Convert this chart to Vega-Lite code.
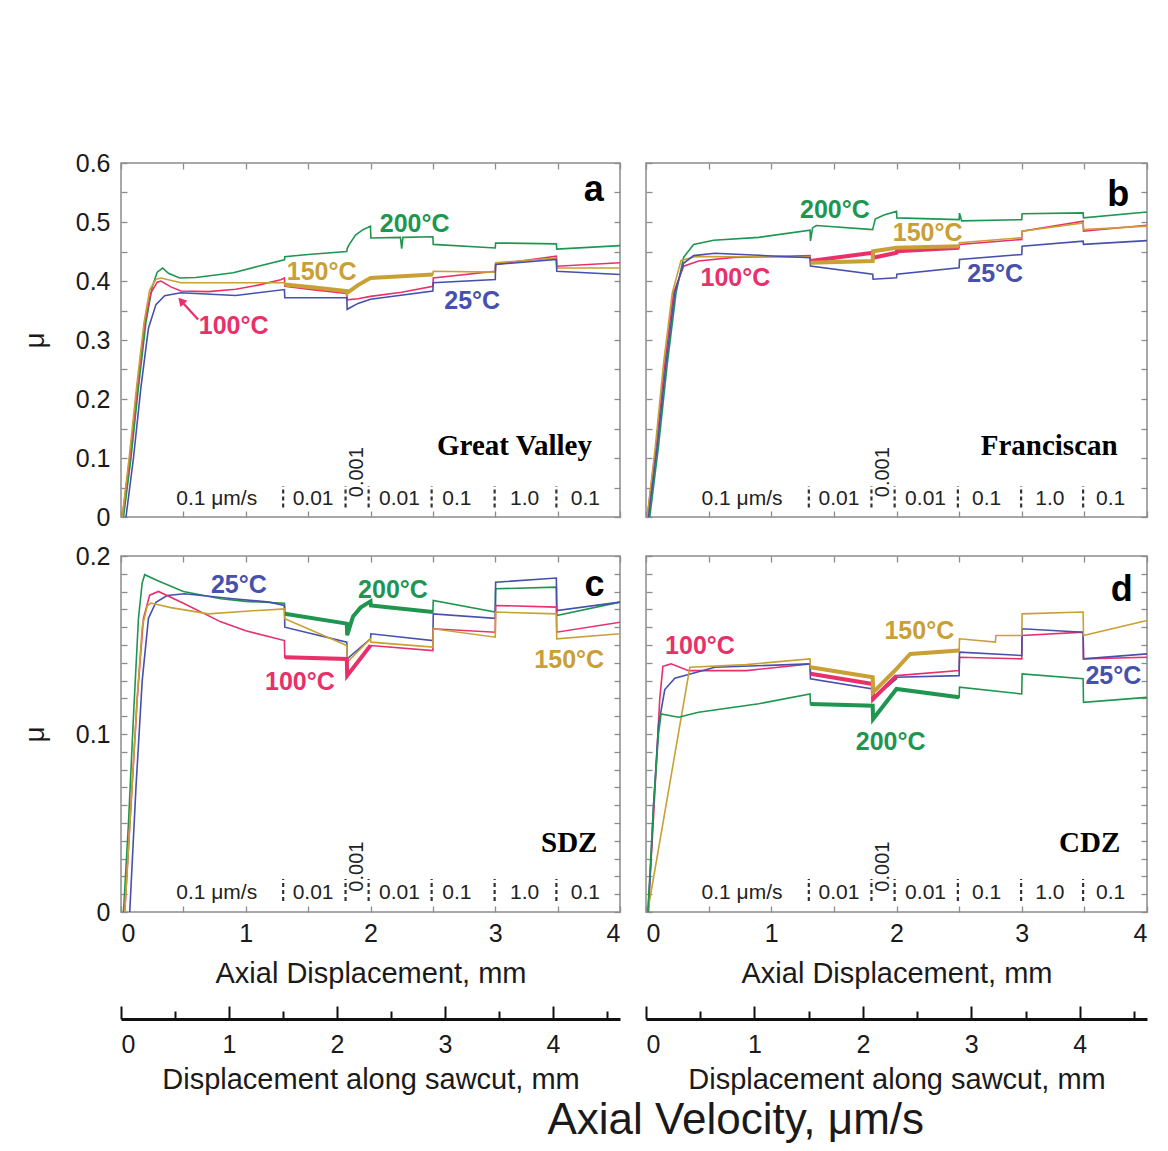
{
"$schema": "https://vega.github.io/schema/vega-lite/v6.json",
"background": "white",
"padding": {"left": 20, "top": 150, "right": 10, "bottom": 2},
"config": {
  "font": "Liberation Sans",
  "axis": {"labelFont": "Liberation Sans", "titleFont": "Liberation Sans", "labelColor": "#1a1a1a", "titleColor": "#1a1a1a", "titleFontWeight": "normal"},
  "view": {"stroke": "#8c8c8c", "strokeWidth": 1.5}
},
"title": {"text": "Axial Velocity, μm/s", "orient": "bottom", "fontSize": 44, "fontWeight": "normal", "font": "Liberation Sans", "color": "#1a1a1a", "anchor": "middle", "dx": 150, "offset": 4},
"datasets": {
"curves": [
{"p":"a","t":"200°C","x":0.02,"y":0},{"p":"a","t":"200°C","x":0.08,"y":0.1},{"p":"a","t":"200°C","x":0.14,"y":0.22},{"p":"a","t":"200°C","x":0.2,"y":0.33},{"p":"a","t":"200°C","x":0.25,"y":0.39},{"p":"a","t":"200°C","x":0.29,"y":0.415},{"p":"a","t":"200°C","x":0.334,"y":0.422},{"p":"a","t":"200°C","x":0.38,"y":0.413},{"p":"a","t":"200°C","x":0.47,"y":0.405},{"p":"a","t":"200°C","x":0.6,"y":0.406},{"p":"a","t":"200°C","x":0.9,"y":0.414},{"p":"a","t":"200°C","x":1.1,"y":0.425},{"p":"a","t":"200°C","x":1.31,"y":0.436},{"p":"a","t":"200°C","x":1.313,"y":0.441},{"p":"a","t":"200°C","x":1.5,"y":0.445},{"p":"a","t":"200°C","x":1.81,"y":0.45},{"p":"a","t":"200°C","x":1.813,"y":0.455},{"p":"a","t":"200°C","x":1.83,"y":0.462},{"p":"a","t":"200°C","x":1.88,"y":0.478},{"p":"a","t":"200°C","x":1.94,"y":0.487},{"p":"a","t":"200°C","x":2.0,"y":0.493},{"p":"a","t":"200°C","x":2.003,"y":0.473},{"p":"a","t":"200°C","x":2.24,"y":0.474},{"p":"a","t":"200°C","x":2.25,"y":0.455},{"p":"a","t":"200°C","x":2.26,"y":0.474},{"p":"a","t":"200°C","x":2.5,"y":0.475},{"p":"a","t":"200°C","x":2.503,"y":0.462},{"p":"a","t":"200°C","x":3.0,"y":0.456},{"p":"a","t":"200°C","x":3.003,"y":0.4645},{"p":"a","t":"200°C","x":3.49,"y":0.463},{"p":"a","t":"200°C","x":3.493,"y":0.454},{"p":"a","t":"200°C","x":4.0,"y":0.46},
{"p":"a","t":"100°C","x":0.01,"y":0},{"p":"a","t":"100°C","x":0.07,"y":0.1},{"p":"a","t":"100°C","x":0.13,"y":0.22},{"p":"a","t":"100°C","x":0.19,"y":0.33},{"p":"a","t":"100°C","x":0.24,"y":0.38},{"p":"a","t":"100°C","x":0.29,"y":0.398},{"p":"a","t":"100°C","x":0.32,"y":0.4},{"p":"a","t":"100°C","x":0.4,"y":0.39},{"p":"a","t":"100°C","x":0.48,"y":0.383},{"p":"a","t":"100°C","x":0.7,"y":0.382},{"p":"a","t":"100°C","x":0.92,"y":0.386},{"p":"a","t":"100°C","x":1.1,"y":0.393},{"p":"a","t":"100°C","x":1.28,"y":0.402},{"p":"a","t":"100°C","x":1.31,"y":0.405},{"p":"a","t":"100°C","x":1.313,"y":0.391},{"p":"a","t":"100°C","x":1.55,"y":0.385},{"p":"a","t":"100°C","x":1.81,"y":0.379},{"p":"a","t":"100°C","x":1.813,"y":0.368},{"p":"a","t":"100°C","x":1.9,"y":0.37},{"p":"a","t":"100°C","x":2.0,"y":0.374},{"p":"a","t":"100°C","x":2.25,"y":0.381},{"p":"a","t":"100°C","x":2.5,"y":0.391},{"p":"a","t":"100°C","x":2.503,"y":0.405},{"p":"a","t":"100°C","x":3.0,"y":0.4165},{"p":"a","t":"100°C","x":3.003,"y":0.428},{"p":"a","t":"100°C","x":3.49,"y":0.442},{"p":"a","t":"100°C","x":3.493,"y":0.425},{"p":"a","t":"100°C","x":4.0,"y":0.431},
{"p":"a","t":"150°C","x":0.01,"y":0},{"p":"a","t":"150°C","x":0.065,"y":0.1},{"p":"a","t":"150°C","x":0.125,"y":0.22},{"p":"a","t":"150°C","x":0.185,"y":0.33},{"p":"a","t":"150°C","x":0.23,"y":0.385},{"p":"a","t":"150°C","x":0.28,"y":0.403},{"p":"a","t":"150°C","x":0.32,"y":0.405},{"p":"a","t":"150°C","x":0.48,"y":0.397},{"p":"a","t":"150°C","x":1.31,"y":0.397},{"p":"a","t":"150°C","x":1.313,"y":0.394},{"p":"a","t":"150°C","x":1.55,"y":0.389},{"p":"a","t":"150°C","x":1.81,"y":0.383},{"p":"a","t":"150°C","x":1.813,"y":0.38},{"p":"a","t":"150°C","x":1.9,"y":0.393},{"p":"a","t":"150°C","x":2.0,"y":0.405},{"p":"a","t":"150°C","x":2.5,"y":0.411},{"p":"a","t":"150°C","x":2.503,"y":0.4165},{"p":"a","t":"150°C","x":3.0,"y":0.415},{"p":"a","t":"150°C","x":3.003,"y":0.431},{"p":"a","t":"150°C","x":3.49,"y":0.439},{"p":"a","t":"150°C","x":3.493,"y":0.422},{"p":"a","t":"150°C","x":4.0,"y":0.422},
{"p":"a","t":"25°C","x":0.04,"y":0},{"p":"a","t":"25°C","x":0.1,"y":0.1},{"p":"a","t":"25°C","x":0.16,"y":0.22},{"p":"a","t":"25°C","x":0.22,"y":0.32},{"p":"a","t":"25°C","x":0.28,"y":0.36},{"p":"a","t":"25°C","x":0.35,"y":0.375},{"p":"a","t":"25°C","x":0.48,"y":0.38},{"p":"a","t":"25°C","x":0.92,"y":0.3755},{"p":"a","t":"25°C","x":1.31,"y":0.3855},{"p":"a","t":"25°C","x":1.313,"y":0.3715},{"p":"a","t":"25°C","x":1.81,"y":0.3715},{"p":"a","t":"25°C","x":1.813,"y":0.352},{"p":"a","t":"25°C","x":1.9,"y":0.362},{"p":"a","t":"25°C","x":2.0,"y":0.369},{"p":"a","t":"25°C","x":2.5,"y":0.383},{"p":"a","t":"25°C","x":2.503,"y":0.397},{"p":"a","t":"25°C","x":3.0,"y":0.4025},{"p":"a","t":"25°C","x":3.003,"y":0.428},{"p":"a","t":"25°C","x":3.49,"y":0.4365},{"p":"a","t":"25°C","x":3.493,"y":0.4165},{"p":"a","t":"25°C","x":4.0,"y":0.411},
{"p":"b","t":"200°C","x":0.03,"y":0},{"p":"b","t":"200°C","x":0.1,"y":0.12},{"p":"b","t":"200°C","x":0.17,"y":0.26},{"p":"b","t":"200°C","x":0.24,"y":0.38},{"p":"b","t":"200°C","x":0.3,"y":0.44},{"p":"b","t":"200°C","x":0.38,"y":0.462},{"p":"b","t":"200°C","x":0.54,"y":0.469},{"p":"b","t":"200°C","x":0.9,"y":0.474},{"p":"b","t":"200°C","x":1.31,"y":0.486},{"p":"b","t":"200°C","x":1.313,"y":0.468},{"p":"b","t":"200°C","x":1.33,"y":0.49},{"p":"b","t":"200°C","x":1.36,"y":0.494},{"p":"b","t":"200°C","x":1.81,"y":0.487},{"p":"b","t":"200°C","x":1.813,"y":0.49},{"p":"b","t":"200°C","x":1.83,"y":0.505},{"p":"b","t":"200°C","x":1.9,"y":0.512},{"p":"b","t":"200°C","x":2.0,"y":0.518},{"p":"b","t":"200°C","x":2.003,"y":0.507},{"p":"b","t":"200°C","x":2.5,"y":0.504},{"p":"b","t":"200°C","x":2.503,"y":0.515},{"p":"b","t":"200°C","x":2.52,"y":0.502},{"p":"b","t":"200°C","x":3.0,"y":0.504},{"p":"b","t":"200°C","x":3.003,"y":0.514},{"p":"b","t":"200°C","x":3.49,"y":0.5155},{"p":"b","t":"200°C","x":3.493,"y":0.507},{"p":"b","t":"200°C","x":4.0,"y":0.517},
{"p":"b","t":"100°C","x":0.01,"y":0},{"p":"b","t":"100°C","x":0.08,"y":0.12},{"p":"b","t":"100°C","x":0.15,"y":0.26},{"p":"b","t":"100°C","x":0.22,"y":0.38},{"p":"b","t":"100°C","x":0.3,"y":0.425},{"p":"b","t":"100°C","x":0.42,"y":0.434},{"p":"b","t":"100°C","x":0.7,"y":0.44},{"p":"b","t":"100°C","x":1.31,"y":0.443},{"p":"b","t":"100°C","x":1.313,"y":0.434},{"p":"b","t":"100°C","x":1.81,"y":0.448},{"p":"b","t":"100°C","x":1.813,"y":0.4395},{"p":"b","t":"100°C","x":2.0,"y":0.448},{"p":"b","t":"100°C","x":2.003,"y":0.4505},{"p":"b","t":"100°C","x":2.5,"y":0.4565},{"p":"b","t":"100°C","x":2.503,"y":0.462},{"p":"b","t":"100°C","x":3.0,"y":0.4705},{"p":"b","t":"100°C","x":3.003,"y":0.4845},{"p":"b","t":"100°C","x":3.49,"y":0.5015},{"p":"b","t":"100°C","x":3.493,"y":0.4845},{"p":"b","t":"100°C","x":4.0,"y":0.4945},
{"p":"b","t":"150°C","x":0.01,"y":0},{"p":"b","t":"150°C","x":0.075,"y":0.12},{"p":"b","t":"150°C","x":0.14,"y":0.26},{"p":"b","t":"150°C","x":0.21,"y":0.38},{"p":"b","t":"150°C","x":0.28,"y":0.435},{"p":"b","t":"150°C","x":0.4,"y":0.4415},{"p":"b","t":"150°C","x":1.31,"y":0.4405},{"p":"b","t":"150°C","x":1.313,"y":0.431},{"p":"b","t":"150°C","x":1.81,"y":0.434},{"p":"b","t":"150°C","x":1.813,"y":0.4505},{"p":"b","t":"150°C","x":2.0,"y":0.4565},{"p":"b","t":"150°C","x":2.5,"y":0.459},{"p":"b","t":"150°C","x":2.503,"y":0.465},{"p":"b","t":"150°C","x":3.0,"y":0.4735},{"p":"b","t":"150°C","x":3.003,"y":0.4845},{"p":"b","t":"150°C","x":3.49,"y":0.4985},{"p":"b","t":"150°C","x":3.493,"y":0.487},{"p":"b","t":"150°C","x":4.0,"y":0.493},
{"p":"b","t":"25°C","x":0.02,"y":0},{"p":"b","t":"25°C","x":0.09,"y":0.12},{"p":"b","t":"25°C","x":0.16,"y":0.26},{"p":"b","t":"25°C","x":0.23,"y":0.38},{"p":"b","t":"25°C","x":0.3,"y":0.43},{"p":"b","t":"25°C","x":0.38,"y":0.443},{"p":"b","t":"25°C","x":0.55,"y":0.447},{"p":"b","t":"25°C","x":1.31,"y":0.4395},{"p":"b","t":"25°C","x":1.313,"y":0.4255},{"p":"b","t":"25°C","x":1.81,"y":0.4115},{"p":"b","t":"25°C","x":1.813,"y":0.403},{"p":"b","t":"25°C","x":2.0,"y":0.4055},{"p":"b","t":"25°C","x":2.003,"y":0.4115},{"p":"b","t":"25°C","x":2.5,"y":0.4225},{"p":"b","t":"25°C","x":2.503,"y":0.4365},{"p":"b","t":"25°C","x":3.0,"y":0.445},{"p":"b","t":"25°C","x":3.003,"y":0.459},{"p":"b","t":"25°C","x":3.49,"y":0.4675},{"p":"b","t":"25°C","x":3.493,"y":0.462},{"p":"b","t":"25°C","x":4.0,"y":0.4685},
{"p":"c","t":"200°C","x":0.02,"y":0},{"p":"c","t":"200°C","x":0.06,"y":0.05},{"p":"c","t":"200°C","x":0.1,"y":0.11},{"p":"c","t":"200°C","x":0.14,"y":0.165},{"p":"c","t":"200°C","x":0.17,"y":0.185},{"p":"c","t":"200°C","x":0.19,"y":0.1895},{"p":"c","t":"200°C","x":0.3,"y":0.186},{"p":"c","t":"200°C","x":0.5,"y":0.18},{"p":"c","t":"200°C","x":0.8,"y":0.176},{"p":"c","t":"200°C","x":1.0,"y":0.1745},{"p":"c","t":"200°C","x":1.31,"y":0.1735},{"p":"c","t":"200°C","x":1.313,"y":0.1675},{"p":"c","t":"200°C","x":1.81,"y":0.162},{"p":"c","t":"200°C","x":1.813,"y":0.1555},{"p":"c","t":"200°C","x":1.86,"y":0.166},{"p":"c","t":"200°C","x":1.92,"y":0.171},{"p":"c","t":"200°C","x":2.0,"y":0.1745},{"p":"c","t":"200°C","x":2.003,"y":0.1722},{"p":"c","t":"200°C","x":2.5,"y":0.1685},{"p":"c","t":"200°C","x":2.503,"y":0.175},{"p":"c","t":"200°C","x":3.0,"y":0.1685},{"p":"c","t":"200°C","x":3.003,"y":0.1816},{"p":"c","t":"200°C","x":3.49,"y":0.1825},{"p":"c","t":"200°C","x":3.493,"y":0.1666},{"p":"c","t":"200°C","x":4.0,"y":0.1741},
{"p":"c","t":"25°C","x":0.07,"y":0},{"p":"c","t":"25°C","x":0.12,"y":0.07},{"p":"c","t":"25°C","x":0.17,"y":0.13},{"p":"c","t":"25°C","x":0.22,"y":0.165},{"p":"c","t":"25°C","x":0.28,"y":0.174},{"p":"c","t":"25°C","x":0.37,"y":0.1778},{"p":"c","t":"25°C","x":0.51,"y":0.1788},{"p":"c","t":"25°C","x":0.9,"y":0.176},{"p":"c","t":"25°C","x":1.19,"y":0.1741},{"p":"c","t":"25°C","x":1.31,"y":0.1722},{"p":"c","t":"25°C","x":1.313,"y":0.16},{"p":"c","t":"25°C","x":1.81,"y":0.1516},{"p":"c","t":"25°C","x":1.813,"y":0.1422},{"p":"c","t":"25°C","x":2.0,"y":0.1535},{"p":"c","t":"25°C","x":2.003,"y":0.1563},{"p":"c","t":"25°C","x":2.5,"y":0.1525},{"p":"c","t":"25°C","x":2.503,"y":0.1675},{"p":"c","t":"25°C","x":3.0,"y":0.165},{"p":"c","t":"25°C","x":3.003,"y":0.1853},{"p":"c","t":"25°C","x":3.49,"y":0.1876},{"p":"c","t":"25°C","x":3.493,"y":0.1694},{"p":"c","t":"25°C","x":4.0,"y":0.1741},
{"p":"c","t":"100°C","x":0.03,"y":0},{"p":"c","t":"100°C","x":0.08,"y":0.06},{"p":"c","t":"100°C","x":0.13,"y":0.12},{"p":"c","t":"100°C","x":0.18,"y":0.165},{"p":"c","t":"100°C","x":0.23,"y":0.178},{"p":"c","t":"100°C","x":0.3,"y":0.1801},{"p":"c","t":"100°C","x":0.5,"y":0.1735},{"p":"c","t":"100°C","x":0.8,"y":0.163},{"p":"c","t":"100°C","x":1.0,"y":0.158},{"p":"c","t":"100°C","x":1.31,"y":0.1525},{"p":"c","t":"100°C","x":1.313,"y":0.1431},{"p":"c","t":"100°C","x":1.81,"y":0.1422},{"p":"c","t":"100°C","x":1.813,"y":0.1328},{"p":"c","t":"100°C","x":2.0,"y":0.1497},{"p":"c","t":"100°C","x":2.5,"y":0.1469},{"p":"c","t":"100°C","x":2.503,"y":0.1591},{"p":"c","t":"100°C","x":3.0,"y":0.1572},{"p":"c","t":"100°C","x":3.003,"y":0.1722},{"p":"c","t":"100°C","x":3.49,"y":0.1713},{"p":"c","t":"100°C","x":3.493,"y":0.1572},{"p":"c","t":"100°C","x":4.0,"y":0.1628},
{"p":"c","t":"150°C","x":0.03,"y":0},{"p":"c","t":"150°C","x":0.08,"y":0.06},{"p":"c","t":"150°C","x":0.13,"y":0.12},{"p":"c","t":"150°C","x":0.17,"y":0.16},{"p":"c","t":"150°C","x":0.21,"y":0.172},{"p":"c","t":"150°C","x":0.24,"y":0.1736},{"p":"c","t":"150°C","x":0.4,"y":0.171},{"p":"c","t":"150°C","x":0.7,"y":0.1675},{"p":"c","t":"150°C","x":1.0,"y":0.169},{"p":"c","t":"150°C","x":1.31,"y":0.1703},{"p":"c","t":"150°C","x":1.313,"y":0.1647},{"p":"c","t":"150°C","x":1.81,"y":0.1497},{"p":"c","t":"150°C","x":1.813,"y":0.1403},{"p":"c","t":"150°C","x":2.0,"y":0.1535},{"p":"c","t":"150°C","x":2.003,"y":0.1516},{"p":"c","t":"150°C","x":2.5,"y":0.1488},{"p":"c","t":"150°C","x":2.503,"y":0.1591},{"p":"c","t":"150°C","x":3.0,"y":0.1544},{"p":"c","t":"150°C","x":3.003,"y":0.1685},{"p":"c","t":"150°C","x":3.49,"y":0.1675},{"p":"c","t":"150°C","x":3.493,"y":0.1535},{"p":"c","t":"150°C","x":4.0,"y":0.1563},
{"p":"d","t":"100°C","x":0.015,"y":0},{"p":"d","t":"100°C","x":0.05,"y":0.04},{"p":"d","t":"100°C","x":0.08,"y":0.08},{"p":"d","t":"100°C","x":0.11,"y":0.12},{"p":"d","t":"100°C","x":0.135,"y":0.138},{"p":"d","t":"100°C","x":0.2,"y":0.1394},{"p":"d","t":"100°C","x":0.34,"y":0.1356},{"p":"d","t":"100°C","x":0.8,"y":0.1356},{"p":"d","t":"100°C","x":1.31,"y":0.1394},{"p":"d","t":"100°C","x":1.313,"y":0.1338},{"p":"d","t":"100°C","x":1.81,"y":0.1281},{"p":"d","t":"100°C","x":1.813,"y":0.1197},{"p":"d","t":"100°C","x":2.0,"y":0.1328},{"p":"d","t":"100°C","x":2.5,"y":0.1356},{"p":"d","t":"100°C","x":2.503,"y":0.1431},{"p":"d","t":"100°C","x":3.0,"y":0.1422},{"p":"d","t":"100°C","x":3.003,"y":0.1553},{"p":"d","t":"100°C","x":3.49,"y":0.1572},{"p":"d","t":"100°C","x":3.493,"y":0.1422},{"p":"d","t":"100°C","x":4.0,"y":0.1431},
{"p":"d","t":"25°C","x":0.02,"y":0},{"p":"d","t":"25°C","x":0.06,"y":0.06},{"p":"d","t":"25°C","x":0.1,"y":0.105},{"p":"d","t":"25°C","x":0.15,"y":0.125},{"p":"d","t":"25°C","x":0.23,"y":0.1313},{"p":"d","t":"25°C","x":0.55,"y":0.1375},{"p":"d","t":"25°C","x":1.31,"y":0.1394},{"p":"d","t":"25°C","x":1.313,"y":0.131},{"p":"d","t":"25°C","x":1.81,"y":0.1253},{"p":"d","t":"25°C","x":1.813,"y":0.1197},{"p":"d","t":"25°C","x":2.0,"y":0.131},{"p":"d","t":"25°C","x":2.003,"y":0.1319},{"p":"d","t":"25°C","x":2.5,"y":0.1328},{"p":"d","t":"25°C","x":2.503,"y":0.146},{"p":"d","t":"25°C","x":3.0,"y":0.1441},{"p":"d","t":"25°C","x":3.003,"y":0.1591},{"p":"d","t":"25°C","x":3.49,"y":0.1572},{"p":"d","t":"25°C","x":3.493,"y":0.1422},{"p":"d","t":"25°C","x":4.0,"y":0.145},
{"p":"d","t":"150°C","x":0.013,"y":0},{"p":"d","t":"150°C","x":0.35,"y":0.1375},{"p":"d","t":"150°C","x":0.8,"y":0.139},{"p":"d","t":"150°C","x":1.31,"y":0.1422},{"p":"d","t":"150°C","x":1.313,"y":0.1375},{"p":"d","t":"150°C","x":1.81,"y":0.1319},{"p":"d","t":"150°C","x":1.813,"y":0.1234},{"p":"d","t":"150°C","x":2.0,"y":0.1366},{"p":"d","t":"150°C","x":2.11,"y":0.145},{"p":"d","t":"150°C","x":2.5,"y":0.1469},{"p":"d","t":"150°C","x":2.503,"y":0.1535},{"p":"d","t":"150°C","x":2.79,"y":0.1516},{"p":"d","t":"150°C","x":2.793,"y":0.1553},{"p":"d","t":"150°C","x":3.0,"y":0.1553},{"p":"d","t":"150°C","x":3.003,"y":0.1675},{"p":"d","t":"150°C","x":3.49,"y":0.1685},{"p":"d","t":"150°C","x":3.493,"y":0.1553},{"p":"d","t":"150°C","x":4.0,"y":0.1638},
{"p":"d","t":"200°C","x":0.015,"y":0},{"p":"d","t":"200°C","x":0.06,"y":0.06},{"p":"d","t":"200°C","x":0.1,"y":0.1},{"p":"d","t":"200°C","x":0.12,"y":0.1112},{"p":"d","t":"200°C","x":0.26,"y":0.1094},{"p":"d","t":"200°C","x":0.42,"y":0.1122},{"p":"d","t":"200°C","x":0.9,"y":0.117},{"p":"d","t":"200°C","x":1.31,"y":0.1225},{"p":"d","t":"200°C","x":1.313,"y":0.1169},{"p":"d","t":"200°C","x":1.81,"y":0.1159},{"p":"d","t":"200°C","x":1.813,"y":0.1084},{"p":"d","t":"200°C","x":2.0,"y":0.1253},{"p":"d","t":"200°C","x":2.5,"y":0.1206},{"p":"d","t":"200°C","x":2.503,"y":0.1263},{"p":"d","t":"200°C","x":3.0,"y":0.1225},{"p":"d","t":"200°C","x":3.003,"y":0.1338},{"p":"d","t":"200°C","x":3.49,"y":0.131},{"p":"d","t":"200°C","x":3.493,"y":0.1178},{"p":"d","t":"200°C","x":4.0,"y":0.1206}
],
"temps": [
{"p":"a","t":"200°C","x":2.354,"y":0.497},{"p":"a","t":"150°C","x":1.608,"y":0.4148},{"p":"a","t":"100°C","x":0.903,"y":0.3234},{"p":"a","t":"25°C","x":2.815,"y":0.3657},
{"p":"b","t":"200°C","x":1.508,"y":0.5195},{"p":"b","t":"150°C","x":2.249,"y":0.4817},{"p":"b","t":"100°C","x":0.714,"y":0.4056},{"p":"b","t":"25°C","x":2.788,"y":0.4113},
{"p":"c","t":"25°C","x":0.945,"y":0.1835},{"p":"c","t":"200°C","x":2.18,"y":0.1807},{"p":"c","t":"100°C","x":1.434,"y":0.1291},{"p":"c","t":"150°C","x":3.593,"y":0.1413},
{"p":"d","t":"100°C","x":0.431,"y":0.1497},{"p":"d","t":"150°C","x":2.182,"y":0.1581},{"p":"d","t":"25°C","x":3.731,"y":0.1328},{"p":"d","t":"200°C","x":1.953,"y":0.0953}
],
"letters": [
{"p":"a","s":"a","x":3.79,"y":0.555},{"p":"b","s":"b","x":3.771,"y":0.5465},{"p":"c","s":"c","x":3.796,"y":0.1835},{"p":"d","s":"d","x":3.798,"y":0.1807}
],
"names": [
{"p":"a","s":"Great Valley","x":3.154,"y":0.1202},{"p":"b","s":"Franciscan","x":3.219,"y":0.121},{"p":"c","s":"SDZ","x":3.593,"y":0.039},{"p":"d","s":"CDZ","x":3.542,"y":0.039}
],
"vel": [
{"p":"a","s":"0.1 μm/s","x":0.767,"y":0.03},{"p":"a","s":"0.01","x":1.54,"y":0.03},{"p":"a","s":"0.001","x":1.893,"y":0.076},{"p":"a","s":"0.01","x":2.232,"y":0.03},{"p":"a","s":"0.1","x":2.693,"y":0.03},{"p":"a","s":"1.0","x":3.235,"y":0.03},{"p":"a","s":"0.1","x":3.723,"y":0.03},
{"p":"b","s":"0.1 μm/s","x":0.767,"y":0.03},{"p":"b","s":"0.01","x":1.54,"y":0.03},{"p":"b","s":"0.001","x":1.893,"y":0.076},{"p":"b","s":"0.01","x":2.232,"y":0.03},{"p":"b","s":"0.1","x":2.72,"y":0.03},{"p":"b","s":"1.0","x":3.225,"y":0.03},{"p":"b","s":"0.1","x":3.71,"y":0.03},
{"p":"c","s":"0.1 μm/s","x":0.767,"y":0.0105},{"p":"c","s":"0.01","x":1.54,"y":0.0105},{"p":"c","s":"0.001","x":1.893,"y":0.0255},{"p":"c","s":"0.01","x":2.232,"y":0.0105},{"p":"c","s":"0.1","x":2.693,"y":0.0105},{"p":"c","s":"1.0","x":3.235,"y":0.0105},{"p":"c","s":"0.1","x":3.723,"y":0.0105},
{"p":"d","s":"0.1 μm/s","x":0.767,"y":0.0105},{"p":"d","s":"0.01","x":1.54,"y":0.0105},{"p":"d","s":"0.001","x":1.893,"y":0.0255},{"p":"d","s":"0.01","x":2.232,"y":0.0105},{"p":"d","s":"0.1","x":2.72,"y":0.0105},{"p":"d","s":"1.0","x":3.225,"y":0.0105},{"p":"d","s":"0.1","x":3.71,"y":0.0105}
],
"sep": [{"x":1.3},{"x":1.8},{"x":1.985},{"x":2.49},{"x":2.995},{"x":3.49}]
},
"vconcat": [
{
"hconcat": [
{
"width": 499, "height": 354,
"layer": [
{"data":{"name":"curves"},"transform":[{"filter":"datum.p==='a'"}],
 "mark":{"type":"line","strokeWidth":1.6},
 "encoding":{
  "x":{"field":"x","type":"quantitative","scale":{"domain":[0,4],"nice":false,"zero":false},
       "axis":{"orient":"bottom","values":[0,0.5,1,1.5,2,2.5,3,3.5,4],"labels":false,"tickSize":-6,"tickColor":"#8c8c8c","tickWidth":1.3,"domain":false,"grid":false,"title":null}},
  "y":{"field":"y","type":"quantitative","scale":{"domain":[0,0.6],"nice":false,"zero":false},
       "axis":{"orient":"left","values":[0,0.05,0.1,0.15,0.2,0.25,0.3,0.35,0.4,0.45,0.5,0.55,0.6],"labelExpr":"abs(datum.value*10-round(datum.value*10))<0.001 ? format(datum.value,'.1~f') : ''","labelOverlap":false,"labelFontSize":25,"labelPadding":17,"tickSize":-6,"tickColor":"#8c8c8c","tickWidth":1.3,"domain":false,"grid":false,"title":"μ","titleFontSize":28,"titlePadding":26}},
  "color":{"field":"t","type":"nominal","scale":{"domain":["25°C","100°C","150°C","200°C"],"range":["#4650ae","#e8306a","#c8a035","#1e9650"]},"legend":null}
 }},
{"data":{"name":"curves"},"transform":[{"filter":"datum.p==='a' && datum.t==='150°C' && datum.x>1.311 && datum.x<2.501"}],
 "mark":{"type":"line","strokeWidth":4},
 "encoding":{"x":{"field":"x","type":"quantitative","axis":null},"y":{"field":"y","type":"quantitative","axis":null},"color":{"field":"t","type":"nominal","legend":null}}},
{"data":{"name":"temps"},"transform":[{"filter":"datum.p==='a'"}],
 "mark":{"type":"text","fontSize":25,"fontWeight":"bold","font":"Liberation Sans"},
 "encoding":{
  "x":{"field":"x","type":"quantitative","axis":{"orient":"top","values":[0,0.5,1,1.5,2,2.5,3,3.5,4],"labels":false,"tickSize":-6,"tickColor":"#8c8c8c","tickWidth":1.3,"domain":false,"grid":false,"title":null}},
  "y":{"field":"y","type":"quantitative","axis":{"orient":"right","values":[0,0.05,0.1,0.15,0.2,0.25,0.3,0.35,0.4,0.45,0.5,0.55,0.6],"labels":false,"tickSize":-6,"tickColor":"#8c8c8c","tickWidth":1.3,"domain":false,"grid":false,"title":null}},
  "text":{"field":"t"},
  "color":{"field":"t","type":"nominal","legend":null}}},
{"data":{"name":"letters"},"transform":[{"filter":"datum.p==='a'"}],
 "mark":{"type":"text","fontSize":36,"fontWeight":"bold","font":"Liberation Sans","color":"#000"},
 "encoding":{"x":{"field":"x","type":"quantitative","axis":null},"y":{"field":"y","type":"quantitative","axis":null},"text":{"field":"s"}}},
{"data":{"name":"names"},"transform":[{"filter":"datum.p==='a'"}],
 "mark":{"type":"text","fontSize":29,"fontWeight":"bold","font":"Liberation Serif","color":"#000"},
 "encoding":{"x":{"field":"x","type":"quantitative","axis":null},"y":{"field":"y","type":"quantitative","axis":null},"text":{"field":"s"}}},
{"data":{"name":"vel"},"transform":[{"filter":"datum.p==='a' && datum.s!=='0.001'"}],
 "mark":{"type":"text","fontSize":21,"font":"Liberation Sans","color":"#222"},
 "encoding":{"x":{"field":"x","type":"quantitative","axis":null},"y":{"field":"y","type":"quantitative","axis":null},"text":{"field":"s"}}},
{"data":{"name":"vel"},"transform":[{"filter":"datum.p==='a' && datum.s==='0.001'"}],
 "mark":{"type":"text","fontSize":20,"font":"Liberation Sans","color":"#222","angle":270},
 "encoding":{"x":{"field":"x","type":"quantitative","axis":null},"y":{"field":"y","type":"quantitative","axis":null},"text":{"field":"s"}}},
{"data":{"name":"sep"},
 "mark":{"type":"rule","strokeDash":[4,3],"strokeWidth":2.2,"color":"#333"},
 "encoding":{"x":{"field":"x","type":"quantitative","axis":null},"y":{"datum":0.016,"type":"quantitative","axis":null},"y2":{"datum":0.0527}}},
{"data":{"values":[{"x":0.618,"y":0.3347,"x2":0.488,"y2":0.365}]},
 "mark":{"type":"rule","strokeWidth":2.2,"color":"#e8306a"},
 "encoding":{"x":{"field":"x","type":"quantitative","axis":null},"y":{"field":"y","type":"quantitative","axis":null},"x2":{"field":"x2"},"y2":{"field":"y2"}}},
{"data":{"values":[{"x":0.482,"y":0.3665}]},
 "mark":{"type":"point","shape":"triangle-up","angle":318,"size":90,"filled":true,"opacity":1,"color":"#e8306a"},
 "encoding":{"x":{"field":"x","type":"quantitative","axis":null},"y":{"field":"y","type":"quantitative","axis":null}}}
],
"resolve":{"axis":{"x":"independent","y":"independent"}}
},
{
"width": 501, "height": 354,
"layer": [
{"data":{"name":"curves"},"transform":[{"filter":"datum.p==='b'"}],
 "mark":{"type":"line","strokeWidth":1.6},
 "encoding":{
  "x":{"field":"x","type":"quantitative","scale":{"domain":[0,4],"nice":false,"zero":false},
       "axis":{"orient":"bottom","values":[0,0.5,1,1.5,2,2.5,3,3.5,4],"labels":false,"tickSize":-6,"tickColor":"#8c8c8c","tickWidth":1.3,"domain":false,"grid":false,"title":null}},
  "y":{"field":"y","type":"quantitative","scale":{"domain":[0,0.6],"nice":false,"zero":false},
       "axis":{"orient":"left","values":[0,0.05,0.1,0.15,0.2,0.25,0.3,0.35,0.4,0.45,0.5,0.55,0.6],"labels":false,"tickSize":-6,"tickColor":"#8c8c8c","tickWidth":1.3,"domain":false,"grid":false,"title":null}},
  "color":{"field":"t","type":"nominal","scale":{"domain":["25°C","100°C","150°C","200°C"],"range":["#4650ae","#e8306a","#c8a035","#1e9650"]},"legend":null}
 }},
{"data":{"name":"curves"},"transform":[{"filter":"datum.p==='b' && (datum.t==='150°C' || datum.t==='100°C') && datum.x>1.311 && datum.x<2.501"}],
 "mark":{"type":"line","strokeWidth":4},
 "encoding":{"x":{"field":"x","type":"quantitative","axis":null},"y":{"field":"y","type":"quantitative","axis":null},"color":{"field":"t","type":"nominal","legend":null}}},
{"data":{"name":"temps"},"transform":[{"filter":"datum.p==='b'"}],
 "mark":{"type":"text","fontSize":25,"fontWeight":"bold","font":"Liberation Sans"},
 "encoding":{
  "x":{"field":"x","type":"quantitative","axis":{"orient":"top","values":[0,0.5,1,1.5,2,2.5,3,3.5,4],"labels":false,"tickSize":-6,"tickColor":"#8c8c8c","tickWidth":1.3,"domain":false,"grid":false,"title":null}},
  "y":{"field":"y","type":"quantitative","axis":{"orient":"right","values":[0,0.05,0.1,0.15,0.2,0.25,0.3,0.35,0.4,0.45,0.5,0.55,0.6],"labels":false,"tickSize":-6,"tickColor":"#8c8c8c","tickWidth":1.3,"domain":false,"grid":false,"title":null}},
  "text":{"field":"t"},
  "color":{"field":"t","type":"nominal","legend":null}}},
{"data":{"name":"letters"},"transform":[{"filter":"datum.p==='b'"}],
 "mark":{"type":"text","fontSize":36,"fontWeight":"bold","font":"Liberation Sans","color":"#000"},
 "encoding":{"x":{"field":"x","type":"quantitative","axis":null},"y":{"field":"y","type":"quantitative","axis":null},"text":{"field":"s"}}},
{"data":{"name":"names"},"transform":[{"filter":"datum.p==='b'"}],
 "mark":{"type":"text","fontSize":29,"fontWeight":"bold","font":"Liberation Serif","color":"#000"},
 "encoding":{"x":{"field":"x","type":"quantitative","axis":null},"y":{"field":"y","type":"quantitative","axis":null},"text":{"field":"s"}}},
{"data":{"name":"vel"},"transform":[{"filter":"datum.p==='b' && datum.s!=='0.001'"}],
 "mark":{"type":"text","fontSize":21,"font":"Liberation Sans","color":"#222"},
 "encoding":{"x":{"field":"x","type":"quantitative","axis":null},"y":{"field":"y","type":"quantitative","axis":null},"text":{"field":"s"}}},
{"data":{"name":"vel"},"transform":[{"filter":"datum.p==='b' && datum.s==='0.001'"}],
 "mark":{"type":"text","fontSize":20,"font":"Liberation Sans","color":"#222","angle":270},
 "encoding":{"x":{"field":"x","type":"quantitative","axis":null},"y":{"field":"y","type":"quantitative","axis":null},"text":{"field":"s"}}},
{"data":{"name":"sep"},
 "mark":{"type":"rule","strokeDash":[4,3],"strokeWidth":2.2,"color":"#333"},
 "encoding":{"x":{"field":"x","type":"quantitative","axis":null},"y":{"datum":0.016,"type":"quantitative","axis":null},"y2":{"datum":0.0527}}}
],
"resolve":{"axis":{"x":"independent","y":"independent"}}
}
],
"spacing": 19
},
{
"hconcat": [
{
"width": 499, "height": 356,
"layer": [
{
"layer": [
{"data":{"name":"curves"},"transform":[{"filter":"datum.p==='c'"}],
 "mark":{"type":"line","strokeWidth":1.6},
 "encoding":{
  "x":{"field":"x","type":"quantitative","scale":{"domain":[0,4],"nice":false,"zero":false},
       "axis":{"orient":"bottom","values":[0,0.5,1,1.5,2,2.5,3,3.5,4],"labelExpr":"datum.value % 1 === 0 ? format(datum.value,'d') : ''","labelOverlap":false,"labelFontSize":25,"labelPadding":15,"tickSize":-6,"tickColor":"#8c8c8c","tickWidth":1.3,"domain":false,"grid":false,"title":"Axial Displacement, mm","titleFontSize":29,"titlePadding":13}},
  "y":{"field":"y","type":"quantitative","scale":{"domain":[0,0.2],"nice":false,"zero":false},
       "axis":{"orient":"left","values":[0,0.01,0.02,0.03,0.04,0.05,0.06,0.07,0.08,0.09,0.1,0.11,0.12,0.13,0.14,0.15,0.16,0.17,0.18,0.19,0.2],"labelExpr":"abs(datum.value*10-round(datum.value*10))<0.001 ? format(datum.value,'.1~f') : ''","labelOverlap":false,"labelFontSize":25,"labelPadding":17,"tickSize":-6,"tickColor":"#8c8c8c","tickWidth":1.3,"domain":false,"grid":false,"title":"μ","titleFontSize":28,"titlePadding":26}},
  "color":{"field":"t","type":"nominal","scale":{"domain":["25°C","100°C","150°C","200°C"],"range":["#4650ae","#e8306a","#c8a035","#1e9650"]},"legend":null}
 }},
{"data":{"name":"curves"},"transform":[{"filter":"datum.p==='c' && ((datum.t==='200°C' && datum.x>1.311 && datum.x<2.501) || (datum.t==='100°C' && datum.x>1.311 && datum.x<2.001))"}],
 "mark":{"type":"line","strokeWidth":4},
 "encoding":{"x":{"field":"x","type":"quantitative","axis":null},"y":{"field":"y","type":"quantitative","axis":null},"color":{"field":"t","type":"nominal","legend":null},"detail":{"field":"t"}}},
{"data":{"name":"temps"},"transform":[{"filter":"datum.p==='c'"}],
 "mark":{"type":"text","fontSize":25,"fontWeight":"bold","font":"Liberation Sans"},
 "encoding":{
  "x":{"field":"x","type":"quantitative","axis":{"orient":"top","values":[0,0.5,1,1.5,2,2.5,3,3.5,4],"labels":false,"tickSize":-6,"tickColor":"#8c8c8c","tickWidth":1.3,"domain":false,"grid":false,"title":null}},
  "y":{"field":"y","type":"quantitative","axis":{"orient":"right","values":[0,0.01,0.02,0.03,0.04,0.05,0.06,0.07,0.08,0.09,0.1,0.11,0.12,0.13,0.14,0.15,0.16,0.17,0.18,0.19,0.2],"labels":false,"tickSize":-6,"tickColor":"#8c8c8c","tickWidth":1.3,"domain":false,"grid":false,"title":null}},
  "text":{"field":"t"},
  "color":{"field":"t","type":"nominal","legend":null}}},
{"data":{"name":"letters"},"transform":[{"filter":"datum.p==='c'"}],
 "mark":{"type":"text","fontSize":36,"fontWeight":"bold","font":"Liberation Sans","color":"#000"},
 "encoding":{"x":{"field":"x","type":"quantitative","axis":null},"y":{"field":"y","type":"quantitative","axis":null},"text":{"field":"s"}}},
{"data":{"name":"names"},"transform":[{"filter":"datum.p==='c'"}],
 "mark":{"type":"text","fontSize":29,"fontWeight":"bold","font":"Liberation Serif","color":"#000"},
 "encoding":{"x":{"field":"x","type":"quantitative","axis":null},"y":{"field":"y","type":"quantitative","axis":null},"text":{"field":"s"}}},
{"data":{"name":"vel"},"transform":[{"filter":"datum.p==='c' && datum.s!=='0.001'"}],
 "mark":{"type":"text","fontSize":21,"font":"Liberation Sans","color":"#222"},
 "encoding":{"x":{"field":"x","type":"quantitative","axis":null},"y":{"field":"y","type":"quantitative","axis":null},"text":{"field":"s"}}},
{"data":{"name":"vel"},"transform":[{"filter":"datum.p==='c' && datum.s==='0.001'"}],
 "mark":{"type":"text","fontSize":20,"font":"Liberation Sans","color":"#222","angle":270},
 "encoding":{"x":{"field":"x","type":"quantitative","axis":null},"y":{"field":"y","type":"quantitative","axis":null},"text":{"field":"s"}}},
{"data":{"name":"sep"},
 "mark":{"type":"rule","strokeDash":[4,3],"strokeWidth":2.2,"color":"#333"},
 "encoding":{"x":{"field":"x","type":"quantitative","axis":null},"y":{"datum":0.0062,"type":"quantitative","axis":null},"y2":{"datum":0.0186}}}
],
"resolve":{"axis":{"x":"independent","y":"independent"}}
},
{"data":{"values":[{"s":0},{"s":4.62}]},
 "mark":{"type":"point","opacity":0},
 "encoding":{"x":{"field":"s","type":"quantitative","scale":{"domain":[0,4.62],"nice":false,"zero":false},
   "axis":{"orient":"bottom","offset":107,"values":[0,0.5,1,1.5,2,2.5,3,3.5,4,4.5],"labelExpr":"datum.value % 1 === 0 ? format(datum.value,'d') : ''","labelOverlap":false,"labelFontSize":25,"labelPadding":26,"tickSize":{"condition":{"test":"datum.value % 1 === 0","value":-13},"value":-8},"tickColor":"#111","tickWidth":2,"domain":true,"domainColor":"#111","domainWidth":3,"grid":false,"title":"Displacement along sawcut, mm","titleFontSize":29,"titlePadding":3}}}}
],
"resolve":{"scale":{"x":"independent"},"axis":{"x":"independent"}}
},
{
"width": 501, "height": 356,
"layer": [
{
"layer": [
{"data":{"name":"curves"},"transform":[{"filter":"datum.p==='d'"}],
 "mark":{"type":"line","strokeWidth":1.6},
 "encoding":{
  "x":{"field":"x","type":"quantitative","scale":{"domain":[0,4],"nice":false,"zero":false},
       "axis":{"orient":"bottom","values":[0,0.5,1,1.5,2,2.5,3,3.5,4],"labelExpr":"datum.value % 1 === 0 ? format(datum.value,'d') : ''","labelOverlap":false,"labelFontSize":25,"labelPadding":15,"tickSize":-6,"tickColor":"#8c8c8c","tickWidth":1.3,"domain":false,"grid":false,"title":"Axial Displacement, mm","titleFontSize":29,"titlePadding":13}},
  "y":{"field":"y","type":"quantitative","scale":{"domain":[0,0.2],"nice":false,"zero":false},
       "axis":{"orient":"left","values":[0,0.01,0.02,0.03,0.04,0.05,0.06,0.07,0.08,0.09,0.1,0.11,0.12,0.13,0.14,0.15,0.16,0.17,0.18,0.19,0.2],"labels":false,"tickSize":-6,"tickColor":"#8c8c8c","tickWidth":1.3,"domain":false,"grid":false,"title":null}},
  "color":{"field":"t","type":"nominal","scale":{"domain":["25°C","100°C","150°C","200°C"],"range":["#4650ae","#e8306a","#c8a035","#1e9650"]},"legend":null}
 }},
{"data":{"name":"curves"},"transform":[{"filter":"datum.p==='d' && (((datum.t==='150°C' || datum.t==='200°C') && datum.x>1.311 && datum.x<2.501) || (datum.t==='100°C' && datum.x>1.311 && datum.x<2.001))"}],
 "mark":{"type":"line","strokeWidth":4},
 "encoding":{"x":{"field":"x","type":"quantitative","axis":null},"y":{"field":"y","type":"quantitative","axis":null},"color":{"field":"t","type":"nominal","legend":null}}},
{"data":{"name":"temps"},"transform":[{"filter":"datum.p==='d'"}],
 "mark":{"type":"text","fontSize":25,"fontWeight":"bold","font":"Liberation Sans"},
 "encoding":{
  "x":{"field":"x","type":"quantitative","axis":{"orient":"top","values":[0,0.5,1,1.5,2,2.5,3,3.5,4],"labels":false,"tickSize":-6,"tickColor":"#8c8c8c","tickWidth":1.3,"domain":false,"grid":false,"title":null}},
  "y":{"field":"y","type":"quantitative","axis":{"orient":"right","values":[0,0.01,0.02,0.03,0.04,0.05,0.06,0.07,0.08,0.09,0.1,0.11,0.12,0.13,0.14,0.15,0.16,0.17,0.18,0.19,0.2],"labels":false,"tickSize":-6,"tickColor":"#8c8c8c","tickWidth":1.3,"domain":false,"grid":false,"title":null}},
  "text":{"field":"t"},
  "color":{"field":"t","type":"nominal","legend":null}}},
{"data":{"name":"letters"},"transform":[{"filter":"datum.p==='d'"}],
 "mark":{"type":"text","fontSize":36,"fontWeight":"bold","font":"Liberation Sans","color":"#000"},
 "encoding":{"x":{"field":"x","type":"quantitative","axis":null},"y":{"field":"y","type":"quantitative","axis":null},"text":{"field":"s"}}},
{"data":{"name":"names"},"transform":[{"filter":"datum.p==='d'"}],
 "mark":{"type":"text","fontSize":29,"fontWeight":"bold","font":"Liberation Serif","color":"#000"},
 "encoding":{"x":{"field":"x","type":"quantitative","axis":null},"y":{"field":"y","type":"quantitative","axis":null},"text":{"field":"s"}}},
{"data":{"name":"vel"},"transform":[{"filter":"datum.p==='d' && datum.s!=='0.001'"}],
 "mark":{"type":"text","fontSize":21,"font":"Liberation Sans","color":"#222"},
 "encoding":{"x":{"field":"x","type":"quantitative","axis":null},"y":{"field":"y","type":"quantitative","axis":null},"text":{"field":"s"}}},
{"data":{"name":"vel"},"transform":[{"filter":"datum.p==='d' && datum.s==='0.001'"}],
 "mark":{"type":"text","fontSize":20,"font":"Liberation Sans","color":"#222","angle":270},
 "encoding":{"x":{"field":"x","type":"quantitative","axis":null},"y":{"field":"y","type":"quantitative","axis":null},"text":{"field":"s"}}},
{"data":{"name":"sep"},
 "mark":{"type":"rule","strokeDash":[4,3],"strokeWidth":2.2,"color":"#333"},
 "encoding":{"x":{"field":"x","type":"quantitative","axis":null},"y":{"datum":0.0062,"type":"quantitative","axis":null},"y2":{"datum":0.0186}}}
],
"resolve":{"axis":{"x":"independent","y":"independent"}}
},
{"data":{"values":[{"s":0},{"s":4.62}]},
 "mark":{"type":"point","opacity":0},
 "encoding":{"x":{"field":"s","type":"quantitative","scale":{"domain":[0,4.62],"nice":false,"zero":false},
   "axis":{"orient":"bottom","offset":107,"values":[0,0.5,1,1.5,2,2.5,3,3.5,4,4.5],"labelExpr":"datum.value % 1 === 0 ? format(datum.value,'d') : ''","labelOverlap":false,"labelFontSize":25,"labelPadding":26,"tickSize":{"condition":{"test":"datum.value % 1 === 0","value":-13},"value":-8},"tickColor":"#111","tickWidth":2,"domain":true,"domainColor":"#111","domainWidth":3,"grid":false,"title":"Displacement along sawcut, mm","titleFontSize":29,"titlePadding":3}}}}
],
"resolve":{"scale":{"x":"independent"},"axis":{"x":"independent"}}
}
],
"spacing": 18
}
],
"spacing": 12
}
